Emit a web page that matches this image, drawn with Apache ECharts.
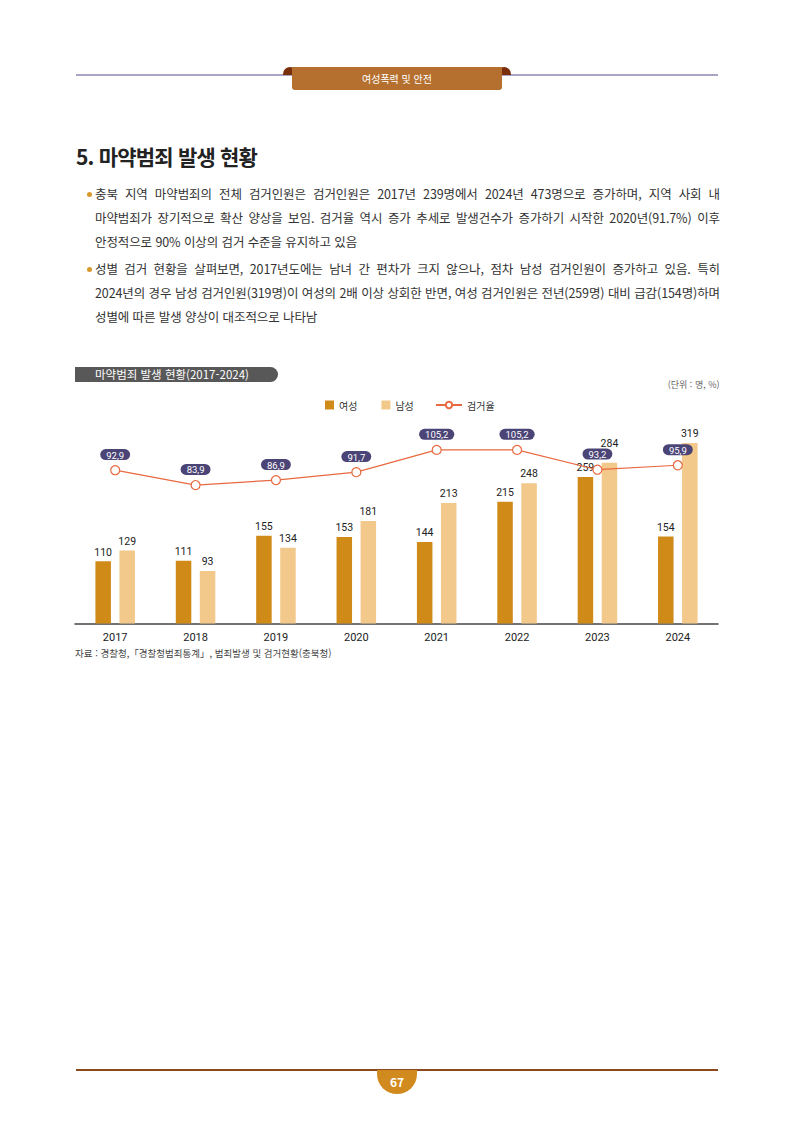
<!DOCTYPE html>
<html lang="ko">
<head>
<meta charset="utf-8">
<title>마약범죄 발생 현황</title>
<script src="https://cdn.jsdelivr.net/npm/echarts@6/dist/echarts.min.js"></script>
<style>
  html, body { margin: 0; padding: 0; background: #fff; }
  body { width: 794px; height: 1123px; position: relative; overflow: hidden;
         font-family: "Noto Sans CJK KR", "Noto Sans", sans-serif; color: #333; }
  .abs { position: absolute; }
  .hline { position: absolute; left: 76px; width: 642px; height: 2px; background: #a9a4c4; }
  .tab { left: 292px; top: 67px; width: 210px; height: 23px; background: #b5702f;
         border-radius: 0 0 3px 3px; color: #fff; font-size: 10px; text-align: center; line-height: 24px; }
  .curl { top: 67px; width: 14px; height: 8px; background: #7a2f0c; border-radius: 8px 8px 0 0; }
  h1 { position: absolute; left: 76px; top: 141px; margin: 0; font-size: 21px; font-weight: 700;
       letter-spacing: -0.8px; color: #222; line-height: 30px; }
  .ln { position: absolute; left: 95px; width: 625px; font-size: 12.5px; letter-spacing: -0.1px;
        line-height: 18px; color: #333; white-space: nowrap; }
  .full { text-align: justify; text-align-last: justify; white-space: normal; }
  .dot { position: absolute; left: 87px; width: 5px; height: 5px; border-radius: 50%; background: #d99a2b; }
  #chart { position: absolute; left: 0; top: 360px; width: 794px; height: 310px; }
  .fline { position: absolute; left: 76px; top: 1069px; width: 642px; height: 1.5px; background: #8a4a1e; }
  .page { left: 377px; top: 1070px; width: 40px; height: 24px; background: #d18a1e;
          border-radius: 0 0 20px 20px; color: #fff; font-weight: 700; font-size: 12px;
          text-align: center; line-height: 24px; }
</style>
</head>
<body>
<div class="hline" style="top:74px"></div>
<div class="abs curl" style="left:283px"></div>
<div class="abs curl" style="left:497px"></div>
<div class="abs tab">여성폭력 및 안전</div>

<h1>5. 마약범죄 발생 현황</h1>

<div class="dot" style="top:192px"></div>
<div class="ln full" style="top:185px">충북 지역 마약범죄의 전체 검거인원은 검거인원은 2017년 239명에서 2024년 473명으로 증가하며, 지역 사회 내</div>
<div class="ln full" style="top:209px">마약범죄가 장기적으로 확산 양상을 보임. 검거율 역시 증가 추세로 발생건수가 증가하기 시작한 2020년(91.7%) 이후</div>
<div class="ln" style="top:233px">안정적으로 90% 이상의 검거 수준을 유지하고 있음</div>

<div class="dot" style="top:267px"></div>
<div class="ln full" style="top:260px">성별 검거 현황을 살펴보면, 2017년도에는 남녀 간 편차가 크지 않으나, 점차 남성 검거인원이 증가하고 있음. 특히</div>
<div class="ln full" style="top:284px">2024년의 경우 남성 검거인원(319명)이 여성의 2배 이상 상회한 반면, 여성 검거인원은 전년(259명) 대비 급감(154명)하며</div>
<div class="ln" style="top:308px">성별에 따른 발생 양상이 대조적으로 나타남</div>

<div id="chart"></div>

<div class="fline"></div>
<div class="abs page">67</div>

<script>
var years = ['2017', '2018', '2019', '2020', '2021', '2022', '2023', '2024'];
var female = [110, 111, 155, 153, 144, 215, 259, 154];
var male = [129, 93, 134, 181, 213, 248, 284, 319];
var rate = [92.9, 83.9, 86.9, 91.7, 105.2, 105.2, 93.2, 95.9];

// 2023 남성 라벨은 검거율 라벨과 겹치지 않도록 위로 올림
var maleData = male.map(function (v, i) {
  return i === 6 ? { value: v, label: { distance: 14 } } : v;
});

var myChart = echarts.init(document.getElementById('chart'), null, { renderer: 'svg' });
myChart.setOption({
  animation: false,
  textStyle: { fontFamily: 'Roboto, "Noto Sans CJK KR", sans-serif' },
  grid: { left: 75, right: 76, top: 65.5, bottom: 46.5 },
  legend: [
    {
      data: ['여성', '남성'],
      left: 320, top: 35,
      icon: 'rect', itemWidth: 9, itemHeight: 9, itemGap: 24,
      textStyle: { fontSize: 10, color: '#333', fontFamily: '"Noto Sans CJK KR", sans-serif' }
    },
    {
      data: ['검거율'],
      left: 430, top: 35,
      itemWidth: 26, itemHeight: 8,
      textStyle: { fontSize: 10, color: '#333', fontFamily: '"Noto Sans CJK KR", sans-serif' }
    }
  ],
  graphic: [
    {
      type: 'rect', left: 75, top: 7,
      shape: { width: 203, height: 15, r: [0, 7.5, 7.5, 0] },
      style: { fill: '#585858' }
    },
    {
      type: 'text', left: 95, top: 8,
      style: { text: '마약범죄 발생 현황(2017-2024)', fill: '#fff', fontSize: 11.5,
               fontFamily: '"Noto Sans CJK KR", sans-serif' }
    },
    {
      type: 'text', right: 76, top: 20,
      style: { text: '(단위 : 명, %)', fill: '#666', fontSize: 9,
               fontFamily: '"Noto Sans CJK KR", sans-serif' }
    },
    {
      type: 'text', left: 75, top: 288,
      style: { text: '자료 : 경찰청,「경찰청범죄통계」, 범죄발생 및 검거현황(충북청)', fill: '#444', fontSize: 9.5,
               fontFamily: '"Noto Sans CJK KR", sans-serif' }
    }
  ],
  xAxis: {
    type: 'category',
    data: years,
    axisLine: { lineStyle: { color: '#444', width: 1.5 } },
    axisTick: { show: false },
    axisLabel: { color: '#222', fontSize: 11, margin: 8 }
  },
  yAxis: [
    { type: 'value', min: 0, max: 350, show: false },
    { type: 'value', min: 0, max: 120, show: false }
  ],
  series: [
    {
      name: '여성', type: 'bar', data: female,
      barWidth: 15.5, barGap: '55%',
      itemStyle: { color: '#cf8a18' },
      label: { show: true, position: 'top', distance: 4, color: '#222', fontSize: 10.5 }
    },
    {
      name: '남성', type: 'bar', data: maleData,
      barWidth: 15.5,
      itemStyle: { color: '#f3c88b' },
      label: { show: true, position: 'top', distance: 4, color: '#222', fontSize: 10.5 }
    },
    {
      name: '검거율', type: 'line', data: rate, yAxisIndex: 1, z: 5,
      symbol: 'circle', symbolSize: 9,
      lineStyle: { color: '#e8693f', width: 1.2 },
      itemStyle: { color: '#fff', borderColor: '#e8693f', borderWidth: 1.2 },
      label: {
        show: true, position: 'top', distance: 5,
        formatter: function (p) { return p.value.toFixed(1).replace('.', ','); },
        backgroundColor: '#4b4476', borderRadius: 6, padding: [1, 6, 0, 6],
        color: '#fff', fontSize: 9.5, lineHeight: 10
      }
    }
  ]
});
</script>
</body>
</html>
